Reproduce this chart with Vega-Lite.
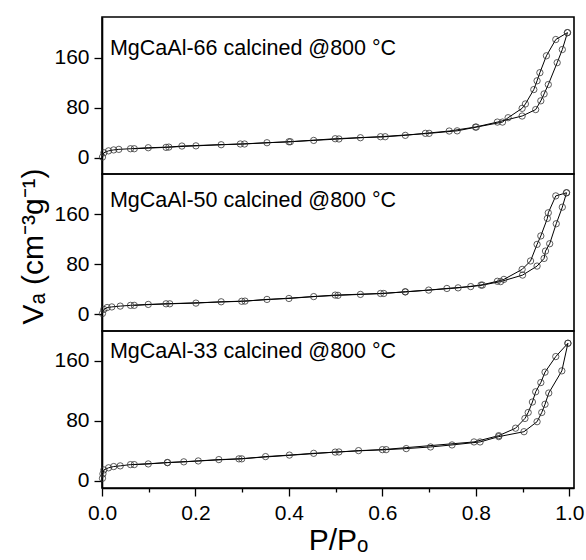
{
  "$schema": "https://vega.github.io/schema/vega-lite/v6.json",
  "padding": {"left": 18, "top": 16, "right": 12, "bottom": 5},
  "bounds": "flush",
  "spacing": 0,
  "background": "white",
  "config": {
    "font": "Liberation Sans",
    "view": {"stroke": "black", "strokeWidth": 1.6},
    "axis": {
      "grid": false,
      "labelFontSize": 21,
      "labelColor": "black",
      "labelFont": "Liberation Sans",
      "labelFlush": false,
      "tickColor": "black",
      "tickWidth": 1.3,
      "domainColor": "black",
      "domainWidth": 1.6,
      "titleColor": "black",
      "titleFont": "Liberation Sans",
      "titleFontWeight": "normal"
    }
  },
  "datasets": {
    "iso": [
      {"s": "66", "b": "a", "p": 0.001, "v": 1},
      {"s": "66", "b": "a", "p": 0.004, "v": 8},
      {"s": "66", "b": "a", "p": 0.014, "v": 11},
      {"s": "66", "b": "a", "p": 0.025, "v": 12.5},
      {"s": "66", "b": "a", "p": 0.036, "v": 13.4},
      {"s": "66", "b": "a", "p": 0.061, "v": 14.4},
      {"s": "66", "b": "a", "p": 0.099, "v": 16},
      {"s": "66", "b": "a", "p": 0.143, "v": 17},
      {"s": "66", "b": "a", "p": 0.201, "v": 19},
      {"s": "66", "b": "a", "p": 0.255, "v": 20.8},
      {"s": "66", "b": "a", "p": 0.305, "v": 22},
      {"s": "66", "b": "a", "p": 0.353, "v": 24},
      {"s": "66", "b": "a", "p": 0.403, "v": 25.6},
      {"s": "66", "b": "a", "p": 0.453, "v": 27.7},
      {"s": "66", "b": "a", "p": 0.507, "v": 30},
      {"s": "66", "b": "a", "p": 0.553, "v": 32},
      {"s": "66", "b": "a", "p": 0.606, "v": 33.6},
      {"s": "66", "b": "a", "p": 0.649, "v": 35.8},
      {"s": "66", "b": "a", "p": 0.692, "v": 39},
      {"s": "66", "b": "a", "p": 0.743, "v": 42.7},
      {"s": "66", "b": "a", "p": 0.799, "v": 49},
      {"s": "66", "b": "a", "p": 0.846, "v": 57},
      {"s": "66", "b": "a", "p": 0.899, "v": 66.7},
      {"s": "66", "b": "a", "p": 0.928, "v": 77},
      {"s": "66", "b": "a", "p": 0.939, "v": 91},
      {"s": "66", "b": "a", "p": 0.946, "v": 102},
      {"s": "66", "b": "a", "p": 0.955, "v": 117},
      {"s": "66", "b": "a", "p": 0.974, "v": 152},
      {"s": "66", "b": "a", "p": 0.985, "v": 173},
      {"s": "66", "b": "a", "p": 0.996, "v": 200},
      {"s": "66", "b": "d", "p": 0.996, "v": 200},
      {"s": "66", "b": "d", "p": 0.971, "v": 189},
      {"s": "66", "b": "d", "p": 0.951, "v": 163},
      {"s": "66", "b": "d", "p": 0.937, "v": 136},
      {"s": "66", "b": "d", "p": 0.931, "v": 123},
      {"s": "66", "b": "d", "p": 0.924, "v": 109},
      {"s": "66", "b": "d", "p": 0.906, "v": 86},
      {"s": "66", "b": "d", "p": 0.899, "v": 79},
      {"s": "66", "b": "d", "p": 0.869, "v": 64},
      {"s": "66", "b": "d", "p": 0.857, "v": 57},
      {"s": "66", "b": "d", "p": 0.801, "v": 49},
      {"s": "66", "b": "d", "p": 0.760, "v": 43},
      {"s": "66", "b": "d", "p": 0.700, "v": 39},
      {"s": "66", "b": "d", "p": 0.596, "v": 33.6},
      {"s": "66", "b": "d", "p": 0.499, "v": 30.4},
      {"s": "66", "b": "d", "p": 0.400, "v": 25.5},
      {"s": "66", "b": "d", "p": 0.296, "v": 22},
      {"s": "66", "b": "d", "p": 0.171, "v": 18.7},
      {"s": "66", "b": "d", "p": 0.137, "v": 16.6},
      {"s": "66", "b": "d", "p": 0.069, "v": 14.4},

      {"s": "50", "b": "a", "p": 0.001, "v": 1},
      {"s": "50", "b": "a", "p": 0.004, "v": 7.5},
      {"s": "50", "b": "a", "p": 0.011, "v": 10.5},
      {"s": "50", "b": "a", "p": 0.021, "v": 11.5},
      {"s": "50", "b": "a", "p": 0.039, "v": 12.8},
      {"s": "50", "b": "a", "p": 0.061, "v": 14},
      {"s": "50", "b": "a", "p": 0.099, "v": 15.5},
      {"s": "50", "b": "a", "p": 0.145, "v": 16.5},
      {"s": "50", "b": "a", "p": 0.201, "v": 17.6},
      {"s": "50", "b": "a", "p": 0.255, "v": 19.7},
      {"s": "50", "b": "a", "p": 0.306, "v": 20.8},
      {"s": "50", "b": "a", "p": 0.353, "v": 23.5},
      {"s": "50", "b": "a", "p": 0.400, "v": 25},
      {"s": "50", "b": "a", "p": 0.453, "v": 28},
      {"s": "50", "b": "a", "p": 0.505, "v": 30},
      {"s": "50", "b": "a", "p": 0.553, "v": 31.5},
      {"s": "50", "b": "a", "p": 0.603, "v": 33},
      {"s": "50", "b": "a", "p": 0.649, "v": 35.7},
      {"s": "50", "b": "a", "p": 0.699, "v": 38.4},
      {"s": "50", "b": "a", "p": 0.738, "v": 41},
      {"s": "50", "b": "a", "p": 0.789, "v": 44},
      {"s": "50", "b": "a", "p": 0.814, "v": 46.4},
      {"s": "50", "b": "a", "p": 0.853, "v": 52},
      {"s": "50", "b": "a", "p": 0.900, "v": 62.4},
      {"s": "50", "b": "a", "p": 0.931, "v": 76.8},
      {"s": "50", "b": "a", "p": 0.946, "v": 89},
      {"s": "50", "b": "a", "p": 0.949, "v": 100.8},
      {"s": "50", "b": "a", "p": 0.958, "v": 112.5},
      {"s": "50", "b": "a", "p": 0.972, "v": 144.5},
      {"s": "50", "b": "a", "p": 0.985, "v": 171},
      {"s": "50", "b": "a", "p": 0.994, "v": 194},
      {"s": "50", "b": "d", "p": 0.994, "v": 194},
      {"s": "50", "b": "d", "p": 0.971, "v": 189},
      {"s": "50", "b": "d", "p": 0.955, "v": 162},
      {"s": "50", "b": "d", "p": 0.953, "v": 153},
      {"s": "50", "b": "d", "p": 0.939, "v": 125},
      {"s": "50", "b": "d", "p": 0.931, "v": 111.5},
      {"s": "50", "b": "d", "p": 0.917, "v": 85},
      {"s": "50", "b": "d", "p": 0.899, "v": 71.5},
      {"s": "50", "b": "d", "p": 0.860, "v": 55.5},
      {"s": "50", "b": "d", "p": 0.846, "v": 52.5},
      {"s": "50", "b": "d", "p": 0.811, "v": 46.4},
      {"s": "50", "b": "d", "p": 0.762, "v": 42},
      {"s": "50", "b": "d", "p": 0.649, "v": 35.5},
      {"s": "50", "b": "d", "p": 0.596, "v": 33},
      {"s": "50", "b": "d", "p": 0.499, "v": 30.4},
      {"s": "50", "b": "d", "p": 0.299, "v": 20.5},
      {"s": "50", "b": "d", "p": 0.137, "v": 16.5},
      {"s": "50", "b": "d", "p": 0.069, "v": 14},

      {"s": "33", "b": "a", "p": 0.001, "v": 3},
      {"s": "33", "b": "a", "p": 0.002, "v": 8.9},
      {"s": "33", "b": "a", "p": 0.004, "v": 14.2},
      {"s": "33", "b": "a", "p": 0.014, "v": 17},
      {"s": "33", "b": "a", "p": 0.025, "v": 18.7},
      {"s": "33", "b": "a", "p": 0.039, "v": 19.6},
      {"s": "33", "b": "a", "p": 0.061, "v": 21.3},
      {"s": "33", "b": "a", "p": 0.099, "v": 22.2},
      {"s": "33", "b": "a", "p": 0.140, "v": 24},
      {"s": "33", "b": "a", "p": 0.175, "v": 25},
      {"s": "33", "b": "a", "p": 0.206, "v": 26.2},
      {"s": "33", "b": "a", "p": 0.250, "v": 28},
      {"s": "33", "b": "a", "p": 0.299, "v": 29},
      {"s": "33", "b": "a", "p": 0.350, "v": 32},
      {"s": "33", "b": "a", "p": 0.401, "v": 34},
      {"s": "33", "b": "a", "p": 0.453, "v": 36.4},
      {"s": "33", "b": "a", "p": 0.507, "v": 38.2},
      {"s": "33", "b": "a", "p": 0.549, "v": 40},
      {"s": "33", "b": "a", "p": 0.608, "v": 41.3},
      {"s": "33", "b": "a", "p": 0.651, "v": 42.7},
      {"s": "33", "b": "a", "p": 0.703, "v": 44.9},
      {"s": "33", "b": "a", "p": 0.749, "v": 47.6},
      {"s": "33", "b": "a", "p": 0.809, "v": 51.6},
      {"s": "33", "b": "a", "p": 0.849, "v": 58.7},
      {"s": "33", "b": "a", "p": 0.903, "v": 65.3},
      {"s": "33", "b": "a", "p": 0.931, "v": 78.7},
      {"s": "33", "b": "a", "p": 0.941, "v": 91},
      {"s": "33", "b": "a", "p": 0.948, "v": 102},
      {"s": "33", "b": "a", "p": 0.956, "v": 117},
      {"s": "33", "b": "a", "p": 0.984, "v": 146.7},
      {"s": "33", "b": "a", "p": 0.997, "v": 183.6},
      {"s": "33", "b": "d", "p": 0.997, "v": 183.6},
      {"s": "33", "b": "d", "p": 0.971, "v": 165.8},
      {"s": "33", "b": "d", "p": 0.948, "v": 145},
      {"s": "33", "b": "d", "p": 0.939, "v": 131},
      {"s": "33", "b": "d", "p": 0.928, "v": 118.7},
      {"s": "33", "b": "d", "p": 0.921, "v": 105},
      {"s": "33", "b": "d", "p": 0.912, "v": 91},
      {"s": "33", "b": "d", "p": 0.905, "v": 83},
      {"s": "33", "b": "d", "p": 0.885, "v": 70},
      {"s": "33", "b": "d", "p": 0.849, "v": 60},
      {"s": "33", "b": "d", "p": 0.796, "v": 51.6},
      {"s": "33", "b": "d", "p": 0.600, "v": 41.3},
      {"s": "33", "b": "d", "p": 0.499, "v": 38},
      {"s": "33", "b": "d", "p": 0.293, "v": 29},
      {"s": "33", "b": "d", "p": 0.140, "v": 24},
      {"s": "33", "b": "d", "p": 0.069, "v": 21.3}
    ],
    "labels": [
      {"s": "66", "label": "MgCaAl-66 calcined @800 °C"},
      {"s": "50", "label": "MgCaAl-50 calcined @800 °C"},
      {"s": "33", "label": "MgCaAl-33 calcined @800 °C"}
    ]
  },
  "vconcat": [
    {
      "width": 472, "height": 157,
      "layer": [
        {
          "data": {"name": "iso"},
          "transform": [{"filter": "datum.s === '66'"}],
          "mark": {"type": "line", "color": "black", "strokeWidth": 1,
                   "point": {"filled": false, "shape": "circle", "size": 40, "stroke": "#333", "strokeWidth": 0.8}},
          "encoding": {
            "x": {"field": "p", "type": "quantitative", "scale": {"domain": [0, 1.01], "nice": false}, "axis": null},
            "y": {"field": "v", "type": "quantitative", "scale": {"domain": [-26, 225], "nice": false},
                  "axis": {"values": [0, 40, 80, 120, 160, 200], "labelExpr": "datum.value % 80 === 0 ? datum.label : ''",
                           "tickSize": {"condition": {"test": "datum.value % 80 === 0", "value": 8}, "value": 4},
                           "labelPadding": 5, "title": null}},
            "detail": {"field": "b"}
          }
        },
        {
          "data": {"name": "labels"},
          "transform": [{"filter": "datum.s === '66'"}],
          "mark": {"type": "text", "align": "left", "baseline": "alphabetic", "fontSize": 21.5, "font": "Liberation Sans", "color": "black"},
          "encoding": {
            "x": {"datum": 0.017, "type": "quantitative"},
            "y": {"datum": 165, "type": "quantitative"},
            "text": {"field": "label"}
          }
        }
      ]
    },
    {
      "width": 472, "height": 157,
      "layer": [
        {
          "data": {"name": "iso"},
          "transform": [{"filter": "datum.s === '50'"}],
          "mark": {"type": "line", "color": "black", "strokeWidth": 1,
                   "point": {"filled": false, "shape": "circle", "size": 40, "stroke": "#333", "strokeWidth": 0.8}},
          "encoding": {
            "x": {"field": "p", "type": "quantitative", "scale": {"domain": [0, 1.01], "nice": false}, "axis": null},
            "y": {"field": "v", "type": "quantitative", "scale": {"domain": [-27, 224], "nice": false},
                  "axis": {"values": [0, 40, 80, 120, 160, 200], "labelExpr": "datum.value % 80 === 0 ? datum.label : ''",
                           "tickSize": {"condition": {"test": "datum.value % 80 === 0", "value": 8}, "value": 4},
                           "labelPadding": 5, "title": "Vₐ (cm⁻³g⁻¹)", "titleFontSize": 30, "titlePadding": 5, "titleY": 72}},
            "detail": {"field": "b"}
          }
        },
        {
          "data": {"name": "labels"},
          "transform": [{"filter": "datum.s === '50'"}],
          "mark": {"type": "text", "align": "left", "baseline": "alphabetic", "fontSize": 21.5, "font": "Liberation Sans", "color": "black"},
          "encoding": {
            "x": {"datum": 0.017, "type": "quantitative"},
            "y": {"datum": 172, "type": "quantitative"},
            "text": {"field": "label"}
          }
        }
      ]
    },
    {
      "width": 472, "height": 157,
      "layer": [
        {
          "data": {"name": "iso"},
          "transform": [{"filter": "datum.s === '33'"}],
          "mark": {"type": "line", "color": "black", "strokeWidth": 1,
                   "point": {"filled": false, "shape": "circle", "size": 40, "stroke": "#333", "strokeWidth": 0.8}},
          "encoding": {
            "x": {"field": "p", "type": "quantitative", "scale": {"domain": [0, 1.01], "nice": false},
                  "axis": {"values": [0, 0.1, 0.2, 0.3, 0.4, 0.5, 0.6, 0.7, 0.8, 0.9, 1.0], "format": ".1f",
                           "labelExpr": "abs(datum.value * 5 - round(datum.value * 5)) < 0.001 ? datum.label : ''",
                           "tickSize": {"condition": {"test": "abs(datum.value * 5 - round(datum.value * 5)) < 0.001", "value": 8}, "value": 4},
                           "labelPadding": 6, "title": "P/Pₒ", "titleFontSize": 30, "titlePadding": 2}},
            "y": {"field": "v", "type": "quantitative", "scale": {"domain": [-10, 200], "nice": false},
                  "axis": {"values": [0, 40, 80, 120, 160, 200], "labelExpr": "datum.value % 80 === 0 ? datum.label : ''",
                           "tickSize": {"condition": {"test": "datum.value % 80 === 0", "value": 8}, "value": 4},
                           "labelPadding": 5, "title": null}},
            "detail": {"field": "b"}
          }
        },
        {
          "data": {"name": "labels"},
          "transform": [{"filter": "datum.s === '33'"}],
          "mark": {"type": "text", "align": "left", "baseline": "alphabetic", "fontSize": 21.5, "font": "Liberation Sans", "color": "black"},
          "encoding": {
            "x": {"datum": 0.017, "type": "quantitative"},
            "y": {"datum": 164, "type": "quantitative"},
            "text": {"field": "label"}
          }
        }
      ]
    }
  ]
}
